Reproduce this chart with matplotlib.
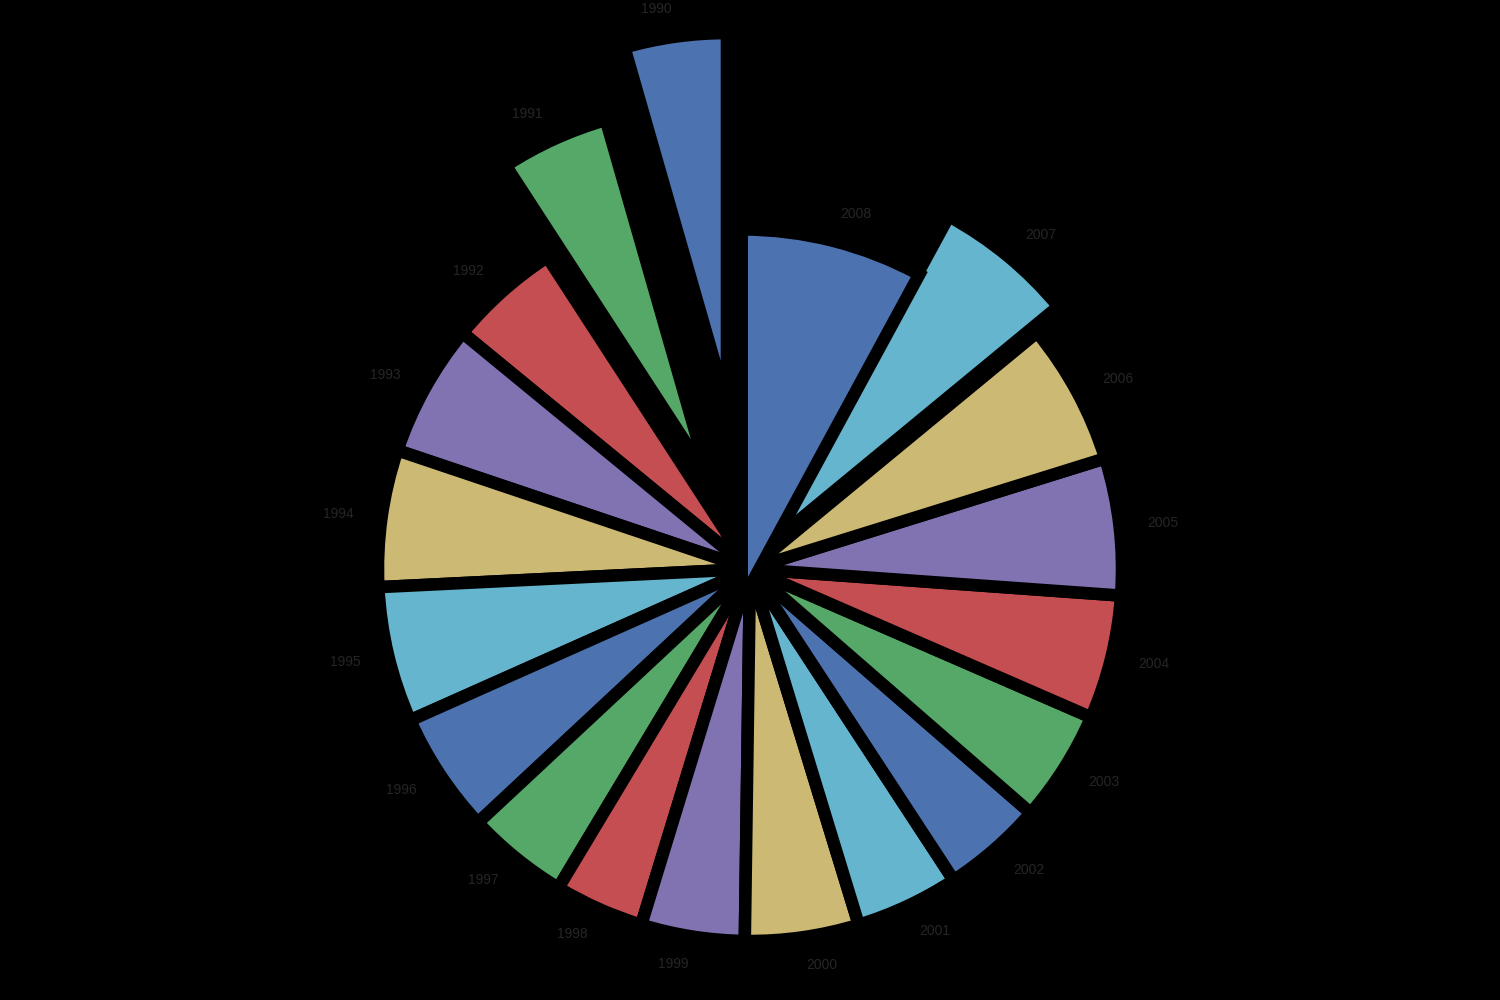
import matplotlib.pyplot as plt

years = ['1990', '1991', '1992', '1993', '1994', '1995', '1996', '1997', '1998', '1999',
         '2000', '2001', '2002', '2003', '2004', '2005', '2006', '2007', '2008']
values = [16.0, 17.0, 17.6, 20.8, 21.4, 21.2, 19.0, 16.0, 14.0, 16.2,
          17.8, 16.2, 15.8, 17.5, 19.4, 21.4, 22.2, 22.0, 28.5]
explode = [0.445, 0.27, 0, 0, 0, 0, 0, 0, 0, 0,
           0, 0, 0, 0, 0, 0, 0, 0.09, -0.09]

palette = ['#4C72B0', '#55A868', '#C44E52', '#8172B2', '#CCB974', '#64B5CD']
colors = [palette[i % len(palette)] for i in range(len(years))]

fig = plt.figure(figsize=(15, 10), dpi=100, facecolor='black')
ax = fig.add_axes([0, 0, 1, 1])
ax.set_facecolor('black')

wedges, texts = ax.pie(values, labels=years, colors=colors, explode=explode,
                       startangle=90, counterclock=True, labeldistance=1.075,
                       wedgeprops={'edgecolor': 'black', 'linewidth': 9},
                       textprops={'color': '#262626', 'fontsize': 10,
                                  'family': 'Liberation Sans'})

# place the pie: radius ~372 px, centre at (750, 569) px
r = 372.0
ax.set_xlim(-750 / r, 750 / r)
ax.set_ylim(-431 / r, 569 / r)
ax.set_aspect('equal')
ax.axis('off')

fig.savefig('out.png', facecolor='black')
